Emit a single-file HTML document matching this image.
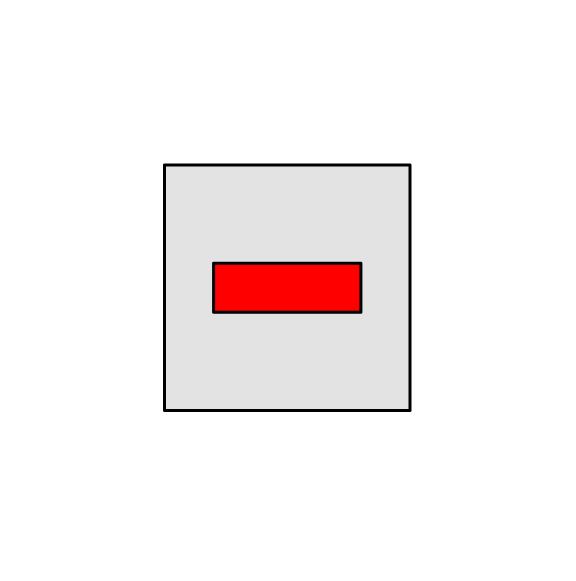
<!DOCTYPE html>
<html><head><meta charset="utf-8"><style>html,body{margin:0;padding:0;background:#fff}</style></head>
<body>
<svg id="chart" width="576" height="576" xmlns="http://www.w3.org/2000/svg"></svg>
<script>
const boxNames = ["background-box", "red-bar"];
const boxX0 = [0, 0.2];
const boxX1 = [1, 0.8];
const boxY0 = [0, 0.4];
const boxY1 = [1, 0.6];
const boxFill = ["#e3e3e3", "#ff0000"];
const chartSvg = document.getElementById('chart');
const plotLeft = 164.5, plotRight = 410, plotTop = 165, plotBottom = 410.5;
const sx = v => plotLeft + v * (plotRight - plotLeft);
const sy = v => plotTop + v * (plotBottom - plotTop);
for (let i = 0; i < boxNames.length; i++) {
  const r = document.createElementNS('http://www.w3.org/2000/svg', 'rect');
  
  
  r.setAttribute('x', sx(boxX0[i]));
  r.setAttribute('y', sy(boxY0[i]));
  r.setAttribute('width', sx(boxX1[i]) - sx(boxX0[i]));
  r.setAttribute('height', sy(boxY1[i]) - sy(boxY0[i]));
  r.setAttribute('fill', boxFill[i]);
  r.setAttribute('stroke', '#000');
  r.setAttribute('stroke-width', '3');
  r.setAttribute('stroke-linejoin', 'round');
  chartSvg.appendChild(r);
}
</script>
</body></html>
